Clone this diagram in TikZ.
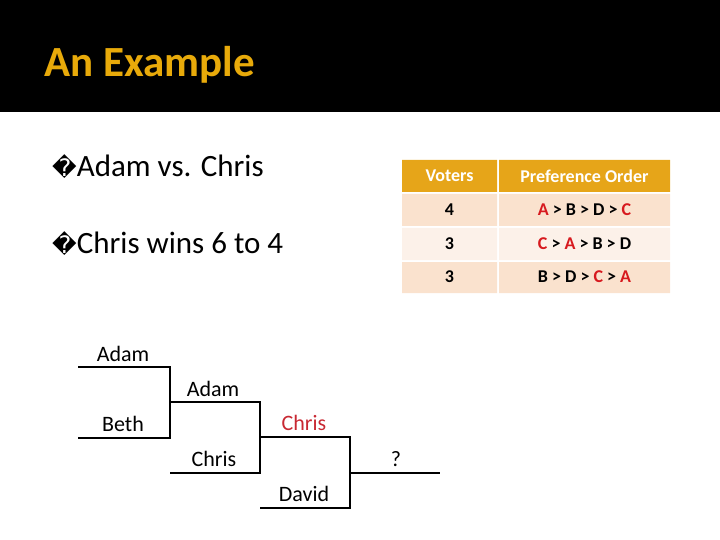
\documentclass[tikz,border=0pt]{standalone}
\usepackage{fontspec}
\setmainfont{Carlito}
\newfontfamily\symfont{DejaVu Sans}
\usetikzlibrary{positioning}
\definecolor{titlegold}{RGB}{232,170,10}
\definecolor{headgold}{RGB}{230,165,25}
\definecolor{rowdark}{RGB}{250,226,206}
\definecolor{rowlight}{RGB}{252,241,233}
\definecolor{winred}{RGB}{200,40,50}
\definecolor{prefred}{RGB}{215,25,30}
\tikzset{
    % bracket line
    brk/.style={line width=1.6pt},
    % bracket names
    player/.style={font=\fontsize{22}{24}\selectfont, anchor=base},
    % bullet lines
    bul/.style={font=\fontsize{31}{34}\selectfont, anchor=base west, inner sep=0pt},
    % table cells
    cell/.style={font=\bfseries\fontsize{18}{20}\selectfont, inner sep=0pt}
}
\newcommand{\rd}[1]{\textcolor{prefred}{#1}}
\begin{document}
\begin{tikzpicture}[x=1pt, y=-1pt]
      \useasboundingbox (0,0) rectangle (720,540);
      \fill[black] (0,0) rectangle (720,112);
      \node[anchor=base west, inner sep=0pt, text=titlegold,
            font=\bfseries\fontsize{43}{46}\selectfont] (title) at (44,77) {An Example};

      % bullets
      \node[bul] (b1) at (52,177) {{\symfont\fontsize{24}{26}\selectfont �}Adam vs. Chris};
      \node[bul] (b2) at (52,254) {{\symfont\fontsize{24}{26}\selectfont �}Chris wins 6 to 4};

      % table
      \fill[headgold] (402,160) rectangle (497,192) (499,160) rectangle (670,192);
      \fill[rowdark]  (402,194) rectangle (497,226) (499,194) rectangle (670,226);
      \fill[rowlight] (402,228) rectangle (497,260) (499,228) rectangle (670,260);
      \fill[rowdark]  (402,262) rectangle (497,293) (499,262) rectangle (670,293);
      \node[cell, text=white] (hv) at (449.5,176) {Voters};
      \node[cell, text=white] (hp) at (584.5,176) {Preference Order};
      \node[cell] (v1) at (449.5,210) {4};
      \node[cell] (p1) at (584.5,210) {\rd{A} > B > D > \rd{C}};
      \node[cell] (v2) at (449.5,244) {3};
      \node[cell] (p2) at (584.5,244) {\rd{C} > \rd{A} > B > D};
      \node[cell] (v3) at (449.5,277) {3};
      \node[cell] (p3) at (584.5,277) {B > D > \rd{C} > \rd{A}};

      % bracket
      \coordinate (a0) at (78,367);  \coordinate (a1) at (170,367);
      \coordinate (e0) at (78,438);  \coordinate (e1) at (170,438);
      \coordinate (m0) at (170,402); \coordinate (m1) at (260,402);
      \coordinate (c0) at (170,473); \coordinate (c1) at (260,473);
      \coordinate (w0) at (260,437); \coordinate (w1) at (350,437);
      \coordinate (d0) at (260,508); \coordinate (d1) at (350,508);
      \coordinate (q0) at (350,473); \coordinate (q1) at (440,473);
      \draw[brk] (a0) -- (a1) -- (e1) -- (e0);
      \draw[brk] (m0) -- (m1) -- (c1) -- (c0);
      \draw[brk] (w0) -- (w1) -- (d1) -- (d0);
      \draw[brk] (q0) -- (q1);

      \node[player] (n1) at (123,361) {Adam};
      \node[player] (n2) at (123,431) {Beth};
      \node[player] (n3) at (213,396) {Adam};
      \node[player] (n4) at (214,466) {Chris};
      \node[player, text=winred] (n5) at (304,430) {Chris};
      \node[player] (n6) at (304,501) {David};
      \node[player] (n7) at (396,466) {?};
\end{tikzpicture}
\end{document}
